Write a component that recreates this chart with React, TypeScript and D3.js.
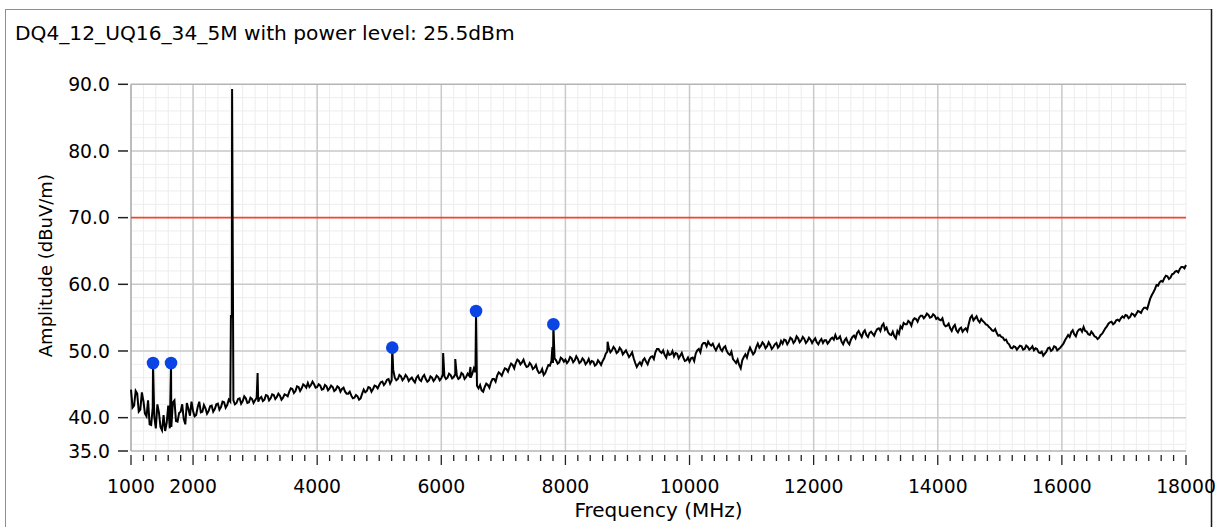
import React from 'react'
import * as d3 from 'd3'

const W = 1216
const H = 527
const M = { left: 131, right: 1186, top: 84.3, bottom: 451 }

const TITLE = 'DQ4_12_UQ16_34_5M with power level: 25.5dBm'
const X_LABEL = 'Frequency (MHz)'
const Y_LABEL = 'Amplitude (dBuV/m)'

const X_DOMAIN = [1000, 18000]
const Y_DOMAIN = [35, 90]
const X_TICKS = [1000, 2000, 4000, 6000, 8000, 10000, 12000, 14000, 16000, 18000]
const Y_TICKS = [35, 40, 50, 60, 70, 80, 90]
const LIMIT_DB = 70

// sweep: one reading every 50 MHz from 1000 MHz
const SWEEP_START = 1000
const SWEEP_STEP = 50
const SWEEP = [
  // 1000 - 1950
  44.2, 41.8, 43.6, 41.2, 42.5, 40.2, 39.0, 41.5, 38.4, 40.8, 38.1, 38.0, 41.8, 38.6, 42.6, 39.4, 40.9, 39.8, 42.2, 40.3,
  // 2000 - 2950
  41.0, 40.4, 42.4, 40.9, 41.4, 41.0, 41.8, 41.3, 42.1, 41.6, 42.3, 41.9, 42.4, 42.6, 42.2, 42.9, 42.5, 42.9, 42.3, 42.8,
  // 3000 - 3950
  42.6, 42.4, 43.1, 42.7, 43.3, 42.9, 43.4, 43.1, 43.3, 43.0, 43.4, 43.9, 44.3, 44.0, 44.6, 44.4, 44.8, 45.2, 44.9, 45.0,
  // 4000 - 4950
  44.6, 44.8, 44.3, 44.7, 44.4, 44.6, 44.2, 44.5, 44.3, 43.9, 43.6, 43.3, 43.0, 43.2, 42.9, 44.2, 44.0, 44.5, 44.3, 44.7,
  // 5000 - 5950
  44.9, 45.4, 45.2, 45.8, 45.6, 46.0, 45.8, 46.2, 45.9, 46.1, 45.8, 45.6, 46.0, 45.7, 46.1, 45.8, 45.6, 46.0, 45.8, 46.1,
  // 6000 - 6950
  45.9, 46.2, 46.0, 46.4, 46.1, 46.3, 46.0, 46.5, 46.1, 46.3, 46.6, 46.8, 44.4, 44.1, 44.6, 44.9, 45.3, 45.8, 46.3, 46.6,
  // 7000 - 7950
  46.9, 47.3, 47.6, 47.9, 48.2, 48.5, 48.3, 48.0, 47.7, 47.9, 47.5, 47.1, 46.8, 46.4, 47.3, 47.8, 48.2, 48.6, 48.3, 48.8,
  // 8000 - 8950
  48.7, 48.5, 48.9, 48.6, 48.8, 48.4, 48.6, 48.3, 48.1, 48.4, 48.0, 48.3, 48.5, 49.6, 50.4, 50.1, 50.3, 49.9, 50.2, 49.8,
  // 9000 - 9950
  49.6, 49.4, 48.9, 47.6, 48.3, 48.6, 48.4, 48.7, 49.2, 49.8, 50.3, 49.7, 49.4, 49.9, 49.5, 49.2, 49.6, 49.3, 49.0, 48.6,
  // 10000 - 10950
  48.4, 49.0, 49.6, 50.3, 50.9, 51.2, 51.4, 50.8, 50.5, 50.6, 50.3, 50.5, 50.0, 49.4, 48.8, 48.2, 47.9, 48.6, 49.5, 49.9,
  // 11000 - 11950
  50.0, 49.8, 51.1, 50.8, 51.0, 50.7, 50.9, 50.6, 51.2, 50.8, 51.1, 51.6, 51.4, 51.8, 51.5, 51.9, 51.6, 51.8, 51.5, 51.7,
  // 12000 - 12950
  51.6, 51.3, 51.5, 51.2, 51.6, 51.4, 52.0, 52.4, 51.9, 51.4, 51.6, 51.3, 51.7, 52.3, 52.7, 52.5, 52.8, 52.4, 52.7, 52.6,
  // 13000 - 13950
  52.9, 53.4, 53.8, 53.2, 52.8, 52.4, 52.2, 53.0, 53.7, 54.2, 54.0, 54.3, 54.6, 54.8, 55.0, 55.3, 55.2, 55.4, 55.1, 55.3,
  // 14000 - 14950
  55.0, 54.6, 54.0, 53.8, 53.4, 53.6, 53.1, 53.3, 52.9, 53.4, 54.1, 55.3, 54.9, 54.6, 54.8, 54.3, 53.9, 53.4, 53.0, 52.7,
  // 15000 - 15950
  52.4, 52.0, 51.7, 51.0, 50.4, 50.6, 50.5, 50.7, 50.3, 50.6, 50.4, 50.1, 50.3, 49.7, 49.3, 49.9, 50.5, 50.2, 50.6, 50.3,
  // 16000 - 16950
  50.8, 51.6, 52.4, 52.8, 52.5, 52.9, 53.3, 53.6, 52.9, 52.4, 52.6, 52.1, 52.0, 52.6, 53.4, 54.1, 54.4, 54.2, 54.7, 54.9,
  // 17000 - 17950
  55.0, 55.3, 55.1, 55.5, 55.6, 55.9, 56.2, 56.5, 57.1, 58.4, 59.3, 59.8, 60.5, 60.9, 61.2, 61.0, 61.6, 62.0, 62.3, 62.6,
  // 18000
  62.9,
]

// in-between readings, 25 MHz after each sweep reading (1025 ... 17975)
const SWEEP_MID = [
  41.5, 44.0, 40.9, 43.8, 40.6, 42.6, 38.9, 40.2, 42.0, 38.6, 40.4, 39.2, 38.4, 42.3, 39.5, 40.7, 42.0, 39.0, 41.3, 42.4,
  40.2, 41.6, 40.8, 41.9, 40.6, 41.7, 40.9, 42.0, 41.2, 42.4, 41.5, 42.7, 55.0, 42.0, 42.8, 42.1, 43.2, 42.2, 43.0, 42.2,
  43.0, 42.9, 42.5, 43.4, 42.6, 43.5, 42.8, 43.6, 42.7, 43.5, 43.2, 44.4, 43.7, 44.7, 44.0, 45.0, 44.5, 44.6, 45.4, 44.5,
  45.0, 44.2, 44.9, 44.1, 44.8, 44.0, 44.7, 43.9, 44.5, 43.6, 43.9, 42.9, 43.4, 42.7, 43.6, 43.8, 44.6, 43.9, 44.8, 44.4,
  45.3, 44.9, 45.7, 45.1, 47.2, 45.6, 46.4, 45.6, 46.4, 45.5, 46.0, 45.3, 46.3, 45.5, 46.4, 45.4, 46.2, 45.5, 46.3, 45.6,
  46.5, 45.8, 46.6, 45.9, 46.5, 45.8, 46.7, 45.8, 46.6, 46.0, 47.4, 44.8, 44.9, 43.9, 45.1, 44.5, 45.8, 45.4, 46.8, 46.3,
  47.4, 46.9, 48.1, 47.4, 48.7, 48.0, 48.7, 47.6, 48.2, 47.3, 47.9, 46.7, 47.3, 46.7, 47.9, 48.5, 48.9, 48.1, 49.0, 48.4,
  48.2, 49.1, 48.3, 49.2, 48.2, 48.9, 48.0, 48.8, 48.5, 47.8, 48.6, 47.9, 48.9, 49.9, 49.8, 50.6, 49.7, 50.5, 49.5, 50.1,
  49.1, 49.8, 48.2, 48.0, 47.9, 48.9, 48.0, 49.1, 48.8, 50.3, 49.9, 50.1, 49.0, 49.4, 50.0, 49.7, 48.9, 49.7, 48.5, 49.0,
  48.9, 48.5, 50.1, 49.8, 51.2, 50.7, 51.0, 51.1, 50.1, 51.0, 50.0, 50.7, 49.6, 49.9, 48.5, 48.7, 47.4, 49.1, 49.0, 50.5,
  49.5, 50.6, 50.5, 51.3, 50.4, 51.3, 50.3, 51.0, 50.5, 51.5, 51.7, 51.0, 52.0, 51.2, 52.2, 51.3, 52.1, 51.2, 52.0, 51.2,
  51.9, 51.0, 51.8, 51.6, 51.1, 51.8, 51.7, 51.8, 52.2, 51.0, 51.9, 51.0, 52.1, 51.9, 53.0, 52.1, 53.1, 52.1, 52.9, 52.3,
  53.3, 53.0, 54.1, 53.5, 52.5, 52.9, 51.9, 52.6, 53.4, 54.0, 54.5, 53.8, 54.9, 54.4, 55.3, 54.9, 55.6, 55.0, 55.5, 54.8,
  54.7, 54.9, 53.7, 54.1, 53.0, 53.9, 52.8, 53.5, 53.2, 53.0, 55.0, 54.6, 55.2, 54.3, 54.5, 54.0, 53.6, 53.1, 53.3, 52.3,
  52.1, 51.6, 51.2, 50.5, 50.7, 50.2, 50.8, 50.2, 50.8, 50.2, 50.7, 50.4, 49.8, 49.9, 49.6, 50.4, 50.0, 50.7, 50.1, 50.5,
  51.1, 52.0, 52.1, 53.1, 52.2, 53.2, 52.9, 53.0, 52.5, 52.9, 52.2, 51.8, 52.4, 53.0, 53.7, 54.3, 54.0, 54.6, 54.5, 55.2,
  55.4, 54.9, 55.6, 55.2, 56.0, 55.7, 56.5, 56.3, 57.9, 58.8, 59.9, 60.3, 60.4, 61.3, 60.8, 61.5, 61.9, 61.8, 62.6, 62.4,
]

// narrow spurs between sweep readings
const SPUR_FREQS = [1355, 1645, 2610, 2629, 3040, 5210, 6030, 6225, 6470, 6560, 7790, 7806, 8680]
const SPUR_LEVELS = [48.2, 48.2, 55.4, 89.3, 46.7, 50.5, 49.7, 48.8, 47.6, 56.0, 50.6, 54.0, 51.4]

// flagged peaks
const PEAK_FREQS = [1355, 1645, 5210, 6560, 7806]
const PEAK_LEVELS = [48.2, 48.2, 50.5, 56.0, 54.0]

const FONT = '"DejaVu Sans", Verdana, sans-serif'

export default function App() {
  const x = d3.scaleLinear().domain(X_DOMAIN).range([M.left, M.right])
  const y = d3.scaleLinear().domain(Y_DOMAIN).range([M.bottom, M.top])

  const points: [number, number][] = SWEEP.map((v, i) => [SWEEP_START + i * SWEEP_STEP, v])
  SWEEP_MID.forEach((v, i) => points.push([SWEEP_START + SWEEP_STEP / 2 + i * SWEEP_STEP, v]))
  SPUR_FREQS.forEach((f, i) => points.push([f, SPUR_LEVELS[i]]))
  points.sort((a, b) => a[0] - b[0])

  const line = d3.line<[number, number]>()
    .x(d => x(d[0]))
    .y(d => y(d[1]))

  const minorX = d3.range(1000, 18001, 200)
  const majorX = d3.range(2000, 17000, 2000)
  const minorY = d3.range(36, 90, 2)
  const majorY = [40, 50, 60, 80]

  return (
    <div style={{ position: 'fixed', left: 0, top: 0, width: W, height: H, background: '#fff' }}>
      <svg width={W} height={H} style={{ display: 'block', fontFamily: FONT }}>
        <rect x={0} y={0} width={W} height={H} fill="#fff" />
        {/* panel frame */}
        <line x1={5.5} x2={5.5} y1={9} y2={H} stroke="#8e8e8e" />
        <line x1={5} x2={1211} y1={9.5} y2={9.5} stroke="#8e8e8e" />
        <line x1={1211.5} x2={1211.5} y1={9} y2={H} stroke="#1a1a1a" strokeWidth={1.5} />

        <text x={15} y={40} fontSize={20.2} fill="#000">{TITLE}</text>

        {/* grid */}
        {minorX.map(f => (
          <line key={'mx' + f} x1={x(f)} x2={x(f)} y1={M.top} y2={M.bottom} stroke="#ededed" />
        ))}
        {minorY.map(v => (
          <line key={'my' + v} x1={M.left} x2={M.right} y1={y(v)} y2={y(v)} stroke="#ededed" />
        ))}
        {majorX.map(f => (
          <line key={'gx' + f} x1={x(f)} x2={x(f)} y1={M.top} y2={M.bottom} stroke="#cacaca" strokeWidth={1.5} />
        ))}
        {majorY.map(v => (
          <line key={'gy' + v} x1={M.left} x2={M.right} y1={y(v)} y2={y(v)} stroke="#cacaca" strokeWidth={1.5} />
        ))}
        <line x1={M.left} x2={M.right} y1={y(90)} y2={y(90)} stroke="#b4b4b4" strokeWidth={1.5} />
        <line x1={M.left} x2={M.right} y1={y(35)} y2={y(35)} stroke="#b4b4b4" strokeWidth={1.5} />
        <line x1={M.left} x2={M.left} y1={M.top} y2={M.bottom} stroke="#a8a8a8" strokeWidth={1.5} />

        {/* limit */}
        <line x1={M.left} x2={M.right} y1={y(LIMIT_DB)} y2={y(LIMIT_DB)} stroke="#f0452f" strokeWidth={1.6} />

        {/* trace */}
        <path d={line(points) ?? ''} fill="none" stroke="#000" strokeWidth={2} strokeLinejoin="miter" />

        {PEAK_FREQS.map((f, i) => (
          <circle key={'pk' + f} cx={x(f)} cy={y(PEAK_LEVELS[i])} r={6.3} fill="#0a44e4" />
        ))}

        {/* y axis */}
        {Y_TICKS.map(v => (
          <g key={'yt' + v}>
            <line x1={118} x2={128} y1={y(v)} y2={y(v)} stroke="#222" strokeWidth={1.5} />
            <text x={110} y={y(v)} dy="0.36em" textAnchor="end" fontSize={18.8} fill="#000">
              {d3.format('.1f')(v)}
            </text>
          </g>
        ))}
        <text
          transform={`translate(52,${(M.top + M.bottom) / 2 - 2}) rotate(-90)`}
          textAnchor="middle"
          fontSize={18}
          fill="#000"
        >
          {Y_LABEL}
        </text>

        {/* x axis */}
        {minorX.map(f => (
          <line key={'xt' + f} x1={x(f)} x2={x(f)} y1={455} y2={X_TICKS.includes(f) ? 465 : 461}
            stroke="#222" strokeWidth={1.3} />
        ))}
        {X_TICKS.map(f => (
          <text key={'xl' + f} x={x(f)} y={493} textAnchor="middle" fontSize={18.8} fill="#000">
            {f}
          </text>
        ))}
        <text x={(M.left + M.right) / 2} y={517} textAnchor="middle" fontSize={20} fill="#000">
          {X_LABEL}
        </text>
      </svg>
    </div>
  )
}
